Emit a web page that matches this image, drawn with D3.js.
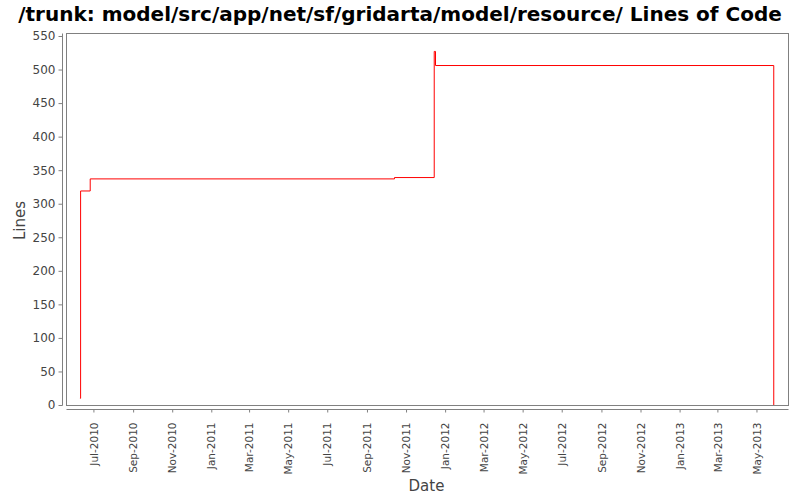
<!DOCTYPE html>
<html><head><meta charset="utf-8">
<script src="https://cdn.jsdelivr.net/npm/d3@7"></script>
<style>body{margin:0;background:#fff}svg{display:block}</style>
</head><body>
<script>
const title = "/trunk: model/src/app/net/sf/gridarta/model/resource/ Lines of Code";
const dates = ["2010-06-10","2010-06-11","2010-06-26","2011-10-14","2011-12-15","2011-12-17","2013-05-28"];
const lines = [10, 319, 337, 339, 527, 506, 0];
const yTicks = [0,50,100,150,200,250,300,350,400,450,500,550];
const xTickDates = ["2010-07-01","2010-09-01","2010-11-01","2011-01-01","2011-03-01","2011-05-01","2011-07-01","2011-09-01","2011-11-01","2012-01-01","2012-03-01","2012-05-01","2012-07-01","2012-09-01","2012-11-01","2013-01-01","2013-03-01","2013-05-01"];
const xDomain = ["2010-05-20","2013-06-20"];

const W=800,H=500;
const L=66.5,R=788.5,T=33.5,B=405;
const parse=d3.utcParse("%Y-%m-%d");
const svg=d3.select("body").append("svg").attr("width",W).attr("height",H);
svg.append("rect").attr("width",W).attr("height",H).attr("fill","#fff");

const x=d3.scaleUtc().domain(xDomain.map(parse)).range([L,R]);
const y=d3.scaleLinear().domain([0,550]).range([B,36]);

svg.append("text").attr("x",400).attr("y",21).attr("text-anchor","middle")
  .attr("font-family","DejaVu Sans").attr("font-weight","bold").attr("font-size",20).attr("fill","#000").text(title);

// plot frame
svg.append("rect").attr("x",L).attr("y",T).attr("width",R-L).attr("height",B-T+0.5)
  .attr("fill","#fff").attr("stroke","#808080").attr("stroke-width",1);

// y axis
const ya=svg.append("g").attr("transform","translate(62.5,0)")
  .call(d3.axisLeft(y).tickValues(yTicks).tickSize(4).tickPadding(3));
// x axis
const xa=svg.append("g").attr("transform","translate(0,409.5)")
  .call(d3.axisBottom(x).tickValues(xTickDates.map(parse)).tickSize(3).tickFormat(d3.utcFormat("%b-%Y")));
[ya,xa].forEach(g=>{
  g.select(".domain").attr("stroke","#808080");
  g.selectAll(".tick line").attr("stroke","#808080");
  g.selectAll("text").attr("font-family","DejaVu Sans").attr("fill","#444");
});
ya.selectAll("text").attr("font-size",12);
xa.selectAll("text").attr("font-size",10.5);
ya.select(".domain").attr("d",`M0,${B+0.5}V${T}`);
xa.select(".domain").attr("d",`M${L},0H${R}`);
xa.selectAll(".tick text").attr("text-anchor","end").attr("transform","rotate(-90)")
  .attr("x",-13).attr("y",0).attr("dy","0.35em");

svg.append("text").attr("transform","translate(24.5,220.5) rotate(-90)").attr("text-anchor","middle")
  .attr("font-family","DejaVu Sans").attr("font-size",15).attr("fill","#444").text("Lines");
svg.append("text").attr("x",426.5).attr("y",491).attr("text-anchor","middle")
  .attr("font-family","DejaVu Sans").attr("font-size",15).attr("fill","#444").text("Date");

const pts=dates.map((d,i)=>[x(parse(d)),y(lines[i])]);
svg.append("path").attr("d",d3.line().curve(d3.curveStepAfter)(pts))
  .attr("fill","none").attr("stroke","#ff0000").attr("stroke-width",1);
</script>
</body></html>
